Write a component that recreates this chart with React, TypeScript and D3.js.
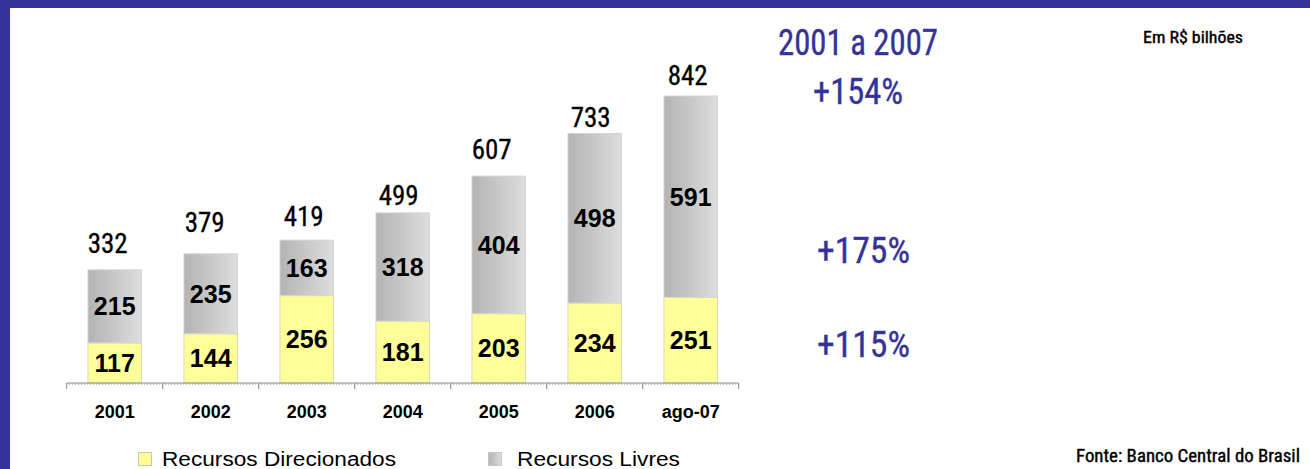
import React from "react";
import * as d3 from "d3";

const categories = ["2001", "2002", "2003", "2004", "2005", "2006", "ago-07"];
const direcionados = [117, 144, 256, 181, 203, 234, 251];
const livres = [215, 235, 163, 318, 404, 498, 591];
const totals = [332, 379, 419, 499, 607, 733, 842];
const growthLabels = ["+154%", "+175%", "+115%"];
const seriesNames = ["Recursos Direcionados", "Recursos Livres"];
const periodTitle = "2001 a 2007";
const unitNote = "Em R$ bilhões";
const sourceNote = "Fonte: Banco Central do Brasil";

// layout tweaks for total labels (vertical gap above bar top, horizontal nudge)
const totalGap = [17, 22, 14, 8, 17, 6, 11];
const totalNudge = [-7, -6, -3, -4, -7, -4, -3];

const W = 1310;
const H = 469;
const BLUE = "#333399";
const NARROW = "'Liberation Sans Narrow', 'Arial Narrow', 'Roboto Condensed', sans-serif";
const ARIAL = "'Liberation Sans', Arial, sans-serif";

export default function App() {
  const x = d3
    .scaleBand<string>()
    .domain(categories)
    .range([66.7, 66.7 + 96 * categories.length])
    .paddingInner(0.443)
    .paddingOuter(0.2215);
  const y = d3.scaleLinear().domain([0, 842]).range([383, 96]);
  const base = y(0);
  const step = x.step();
  const x0 = x.range()[0];
  const x1 = x.range()[1];
  const majorTicks = d3.range(categories.length + 1).map((i) => x0 + i * step);
  const minorTicks = d3.range(0, x1 - x0 + 0.01, step / 32).map((d) => x0 + d);

  const blueText = (label: string, tx: number, ty: number, len: number) => (
    <text
      x={tx}
      y={ty}
      fontFamily={NARROW}
      fontSize={36}
      fill={BLUE}
      stroke={BLUE}
      strokeWidth={0.35}
      textLength={len}
      lengthAdjust="spacingAndGlyphs"
    >
      {label}
    </text>
  );

  return (
    <svg
      width={W}
      height={H}
      style={{ position: "absolute", left: 0, top: 0, background: "#fff" }}
    >
      <defs>
        <linearGradient id="grayGrad" x1="0" x2="1" y1="0" y2="0">
          <stop offset="0" stopColor="#b3b3b3" />
          <stop offset="1" stopColor="#dedede" />
        </linearGradient>
        <linearGradient id="grayLeg" x1="0" x2="1" y1="0" y2="0">
          <stop offset="0" stopColor="#b3b3b3" />
          <stop offset="1" stopColor="#dedede" />
        </linearGradient>
      </defs>
      <rect x={0} y={0} width={W} height={H} fill="#fff" />
      <rect x={0} y={0} width={W} height={8} fill={BLUE} />
      <rect x={0} y={0} width={10} height={H} fill={BLUE} />

      {/* bars */}
      {categories.map((c, i) => {
        const bx = x(c)!;
        const bw = x.bandwidth();
        const yTop = y(direcionados[i]);
        const gTop = y(direcionados[i] + livres[i]);
        const cx = bx + bw / 2;
        return (
          <g key={c}>
            <rect
              x={bx}
              y={gTop}
              width={bw}
              height={yTop - gTop}
              fill="url(#grayGrad)"
              stroke="#d4d4d4"
              strokeWidth={1}
            />
            <rect
              x={bx}
              y={yTop}
              width={bw}
              height={base - yTop}
              fill="#ffff99"
              stroke="#d8d8c0"
              strokeWidth={1}
            />
            <text
              x={cx}
              y={(yTop + base) / 2}
              dy="0.36em"
              textAnchor="middle"
              fontFamily={ARIAL}
              fontWeight="bold"
              fontSize={25}
              fill="#000"
            >
              {direcionados[i]}
            </text>
            <text
              x={cx}
              y={(gTop + yTop) / 2}
              dy="0.36em"
              textAnchor="middle"
              fontFamily={ARIAL}
              fontWeight="bold"
              fontSize={25}
              fill="#000"
            >
              {livres[i]}
            </text>
            <text
              x={cx + totalNudge[i]}
              y={y(totals[i]) - totalGap[i]}
              textAnchor="middle"
              fontFamily={NARROW}
              fontSize={27}
              fill="#000"
              stroke="#000"
              strokeWidth={0.3}
            >
              {totals[i]}
            </text>
            <text
              x={cx}
              y={418}
              textAnchor="middle"
              fontFamily={ARIAL}
              fontWeight="bold"
              fontSize={18}
              fill="#000"
            >
              {c}
            </text>
          </g>
        );
      })}

      {/* axis */}
      <line x1={x0} x2={x1} y1={base} y2={base} stroke="#8c8c8c" strokeWidth={1} />
      {minorTicks.map((t, i) => (
        <line key={"m" + i} x1={t} x2={t} y1={base} y2={base + 2} stroke="#a0a0a0" strokeWidth={0.8} />
      ))}
      {majorTicks.map((t, i) => (
        <line key={"M" + i} x1={t} x2={t} y1={base} y2={base + 6} stroke="#8c8c8c" strokeWidth={1} />
      ))}

      {/* legend */}
      <rect x={138.5} y={452.5} width={13} height={13} fill="#ffff99" stroke="#c8c8a8" />
      <text x={162} y={466} fontFamily={ARIAL} fontSize={20} textLength={234} lengthAdjust="spacingAndGlyphs" fill="#000">
        {seriesNames[0]}
      </text>
      <rect x={488.5} y={452.5} width={13} height={13} fill="url(#grayLeg)" stroke="#c8c8c8" />
      <text x={517} y={466} fontFamily={ARIAL} fontSize={20} textLength={163} lengthAdjust="spacingAndGlyphs" fill="#000">
        {seriesNames[1]}
      </text>

      {/* right annotations */}
      {blueText(periodTitle, 778, 55, 160)}
      {blueText(growthLabels[0], 813, 104, 90)}
      {blueText(growthLabels[1], 817, 263, 93)}
      {blueText(growthLabels[2], 817, 357, 93)}
      <text x={1143} y={43} fontFamily={NARROW} fontSize={17} fill="#000" stroke="#000" strokeWidth={0.4} textLength={100} lengthAdjust="spacingAndGlyphs">
        {unitNote}
      </text>
      <text x={1076} y={462} fontFamily={NARROW} fontSize={19} fill="#000" stroke="#000" strokeWidth={0.4} textLength={224} lengthAdjust="spacingAndGlyphs">
        {sourceNote}
      </text>
    </svg>
  );
}
